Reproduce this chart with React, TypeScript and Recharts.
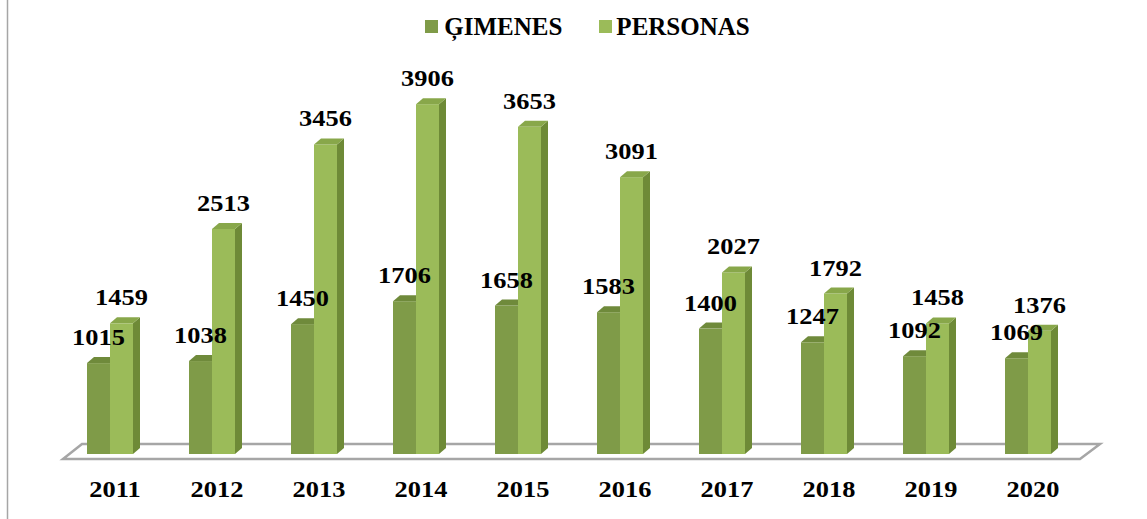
import { BarChart, Bar, XAxis, YAxis, Legend, LabelList } from "recharts";

const years = ["2011", "2012", "2013", "2014", "2015", "2016", "2017", "2018", "2019", "2020"];
const gimenes = [1015, 1038, 1450, 1706, 1658, 1583, 1400, 1247, 1092, 1069];
const personas = [1459, 2513, 3456, 3906, 3653, 3091, 2027, 1792, 1458, 1376];
const seriesNames = ["ĢIMENES", "PERSONAS"];

const data = years.map((year, i) => ({
  year,
  gimenes: gimenes[i],
  personas: personas[i],
}));

const W = 1147;
const H = 519;
const PLOT_LEFT = 59;
const PLOT_RIGHT = 1079;
const PLOT_TOP = 51;
const PLOT_BOTTOM = 454;
const FONT = "'Liberation Serif', 'Times New Roman', serif";
const DX = 7;
const DY = 6;

const COLORS = {
  gimenes: { front: "#7F9B48", side: "#62792F", top: "#6F8A3B" },
  personas: { front: "#9BBB59", side: "#6E8A37", top: "#88A74A" },
};

function make3DBar(c: { front: string; side: string; top: string }) {
  return (props: any) => {
    const { x, y, width, height } = props;
    if (!height || height <= 0) return <g />;
    const r = x + width;
    const b = y + height;
    return (
      <g>
        <rect x={x} y={y} width={width} height={height} fill={c.front} />
        <polygon
          points={`${r},${y} ${r + DX},${y - DY} ${r + DX},${b - DY} ${r},${b}`}
          fill={c.side}
        />
        <polygon
          points={`${x},${y} ${x + DX},${y - DY} ${r + DX},${y - DY} ${r},${y}`}
          fill={c.top}
        />
      </g>
    );
  };
}

// text is a bit wider in the original, so stretch it sideways
const WideText = ({ x, y, children }: any) => (
  <text
    transform={`translate(${x},${y}) scale(1.1,1)`}
    x={0}
    y={0}
    textAnchor="middle"
    fontFamily={FONT}
    fontWeight="bold"
    fontSize={24}
    fill="#000"
  >
    {children}
  </text>
);

const ValueLabel = (props: any) => {
  const { x, y, width, value } = props;
  return <WideText x={x + width / 2} y={y - 18}>{value}</WideText>;
};

const YearTick = (props: any) => {
  const { x, payload } = props;
  return <WideText x={x + 5} y={497}>{payload.value}</WideText>;
};

const LegendContent = () => (
  <div
    style={{
      display: "flex",
      justifyContent: "center",
      alignItems: "center",
      paddingLeft: 28,
      fontFamily: FONT,
      fontWeight: "bold",
      fontSize: 25,
      lineHeight: "25px",
      color: "#000",
    }}
  >
    <span style={{ width: 13, height: 13, background: COLORS.gimenes.front, marginRight: 6 }} />
    <span style={{ marginRight: 37 }}>{seriesNames[0]}</span>
    <span style={{ width: 13, height: 13, background: COLORS.personas.front, marginRight: 4 }} />
    <span>{seriesNames[1]}</span>
  </div>
);

export default function App() {
  return (
    <div style={{ position: "absolute", left: 0, top: 0, width: W, height: H, background: "#fff" }}>
      <svg
        width={W}
        height={H}
        style={{ position: "absolute", left: 0, top: 0 }}
      >
        <line x1={7.5} y1={0} x2={7.5} y2={H} stroke="#A6A6A6" strokeWidth={1.5} />
        <polygon
          points={`${PLOT_LEFT + 4},459 ${PLOT_RIGHT + 1},459 ${PLOT_RIGHT + 21},444 ${PLOT_LEFT + 23},444`}
          fill="#fff"
          stroke="#A6A6A6"
          strokeWidth={2.5}
        />
      </svg>
      <div style={{ position: "absolute", left: 0, top: 0 }}>
        <BarChart
          width={W}
          height={H}
          data={data}
          barCategoryGap={28}
          barGap={0}
          margin={{ top: PLOT_TOP, right: W - PLOT_RIGHT, left: PLOT_LEFT, bottom: 5 }}
        >
          <XAxis
            dataKey="year"
            axisLine={false}
            tickLine={false}
            height={H - PLOT_BOTTOM - 5}
            tick={<YearTick />}
            interval={0}
          />
          <YAxis hide domain={[0, 4500]} />
          <Legend
            verticalAlign="middle"
            wrapperStyle={{ top: 14, left: 0, width: W }}
            content={<LegendContent />}
          />
          <Bar
            dataKey="gimenes"
            name={seriesNames[0]}
            fill={COLORS.gimenes.front}
            shape={make3DBar(COLORS.gimenes)}
            isAnimationActive={false}
          >
            <LabelList dataKey="gimenes" content={<ValueLabel />} />
          </Bar>
          <Bar
            dataKey="personas"
            name={seriesNames[1]}
            fill={COLORS.personas.front}
            shape={make3DBar(COLORS.personas)}
            isAnimationActive={false}
          >
            <LabelList dataKey="personas" content={<ValueLabel />} />
          </Bar>
        </BarChart>
      </div>
    </div>
  );
}
